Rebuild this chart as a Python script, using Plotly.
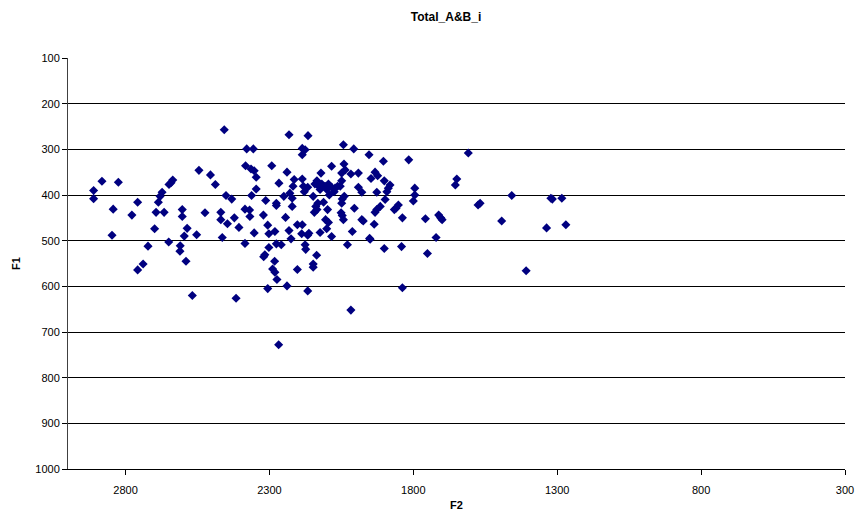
import plotly.graph_objects as go

# Formant measurements: F2 (x) and F1 (y), both in Hz
f2 = [
    2911, 2911, 2882, 2825, 2843, 2847, 2778, 2758, 2758, 2739, 2722, 2699, 2694, 2686, 2680, 2673,
    2666, 2649, 2642, 2636, 2650, 2610, 2611, 2603, 2603, 2596, 2586, 2590, 2568, 2553, 2545, 2524,
    2457, 2232, 2379, 2356, 2505, 2488, 2383, 2364, 2353, 2346, 2292, 2239, 2214, 2267, 2218, 2346,
    2362, 2451, 2431, 2313, 2276, 2276, 2250, 2229, 2221, 2221, 2469, 2469, 2446, 2422, 2406, 2385,
    2369, 2368, 2321, 2306, 2244, 2281, 2302, 2232, 2203, 2186, 2353,
    2464, 2385, 2302, 2276, 2259, 2225, 2316, 2320, 2282, 2289, 2281, 2203, 2274, 2306, 2239, 2416, 2268,
    2166, 2043, 2007, 2186, 2176, 2186, 1954, 1904, 2041, 2084, 2037, 2049, 2121, 2017, 1991, 1933,
    1924, 1947, 1901, 1881, 1887, 1892, 2186, 2182, 2167, 2179, 2135, 2142, 2130, 2118, 2107, 2095,
    2084, 2072, 2063, 2054, 2049, 2124, 2101, 2075, 1991, 1979, 1927, 2092, 2148, 2040, 2047, 2049,
    1898, 1852, 1860, 1866, 1915, 1927, 1933, 2132, 2139, 2135, 2144, 2112, 2098, 2005, 2051, 2047,
    1979, 1974, 1838, 2105, 2095, 2043, 1936, 2101, 2012, 2124, 2163,
    2188, 2167, 2084, 1952, 1950, 2176, 2174, 2136, 2029, 1901, 1841, 2148, 2148, 2167, 2017, 1838,
    1816, 1609, 1795, 1795, 1800, 1649, 1654, 1758, 1712, 1705, 1700, 1721, 1751, 1575, 1568,
    1493, 1458, 1408, 1337, 1322, 1317, 1284, 1270,
]
f1 = [
    390, 408, 370, 372, 431, 488, 444, 416, 564, 551, 512, 474, 438, 416, 403, 394,
    438, 377, 373, 367, 503, 511, 523, 432, 447, 490, 473, 545, 620, 487, 346, 439,
    257, 268, 299, 299, 356, 377, 336, 343, 347, 361, 336, 350, 366, 374, 381, 387,
    401, 401, 409, 412, 418, 423, 403, 396, 407, 425, 438, 454, 463, 450, 471, 431,
    433, 447, 444, 466, 449, 480, 485, 478, 465, 465, 483,
    493, 506, 515, 507, 509, 496, 531, 535, 545, 562, 569, 563, 585, 605, 599, 626, 728,
    270, 290, 299, 298, 301, 312, 312, 326, 332, 337, 345, 352, 352, 354, 352, 350,
    358, 364, 369, 378, 385, 393, 365, 381, 383, 393, 369, 376, 380, 376, 381, 376,
    383, 385, 381, 381, 369, 388, 388, 393, 383, 394, 394, 400, 403, 403, 409, 418,
    410, 422, 429, 432, 425, 432, 438, 418, 425, 432, 438, 416, 432, 429, 439, 445,
    454, 457, 450, 454, 460, 454, 464, 474, 480, 482, 484,
    485, 488, 491, 495, 497, 509, 519, 532, 509, 517, 513, 551, 558, 610, 652, 603,
    323, 308, 385, 400, 413, 365, 378, 452, 444, 450, 454, 493, 528, 422, 418,
    457, 401, 566, 472, 407, 409, 407, 465,
]

title_text = "Total_A&B_i"
x_title = "F2"
y_title = "F1"

font_family = "Liberation Sans, Arial, sans-serif"

fig = go.Figure(
    go.Scatter(
        x=f2,
        y=f1,
        mode="markers",
        marker=dict(symbol="diamond", size=7, color="#000080", line=dict(width=0)),
        showlegend=False,
    )
)

fig.update_layout(
    width=856,
    height=513,
    margin=dict(l=68, r=11, t=58, b=44),
    paper_bgcolor="white",
    plot_bgcolor="white",
    font=dict(family=font_family, size=11, color="black"),
    title=dict(
        text=f"<b>{title_text}</b>",
        x=446 / 856,
        xanchor="center",
        y=1 - 17 / 513,
        yanchor="middle",
        font=dict(size=12, family=font_family, color="black"),
    ),
)

fig.update_xaxes(
    range=[3000, 300],
    tick0=300,
    dtick=500,
    automargin=False,
    showgrid=False,
    zeroline=False,
    showline=True,
    linecolor="#000000",
    linewidth=1,
    ticks="outside",
    ticklen=5,
    tickcolor="#000000",
    tickfont=dict(size=11),
    ticklabelstandoff=6,
    title=dict(text=f"<b>{x_title}</b>", font=dict(size=11), standoff=6),
)

fig.update_yaxes(
    range=[1000, 100],
    tick0=100,
    dtick=100,
    automargin=False,
    showgrid=True,
    gridcolor="#000000",
    gridwidth=1,
    zeroline=False,
    showline=True,
    linecolor="#404040",
    linewidth=1,
    ticks="outside",
    ticklen=5,
    tickcolor="#000000",
    tickfont=dict(size=11),
    title=dict(text=f"<b>{y_title}</b>", font=dict(size=11), standoff=12),
)

fig.write_html("out.html")
